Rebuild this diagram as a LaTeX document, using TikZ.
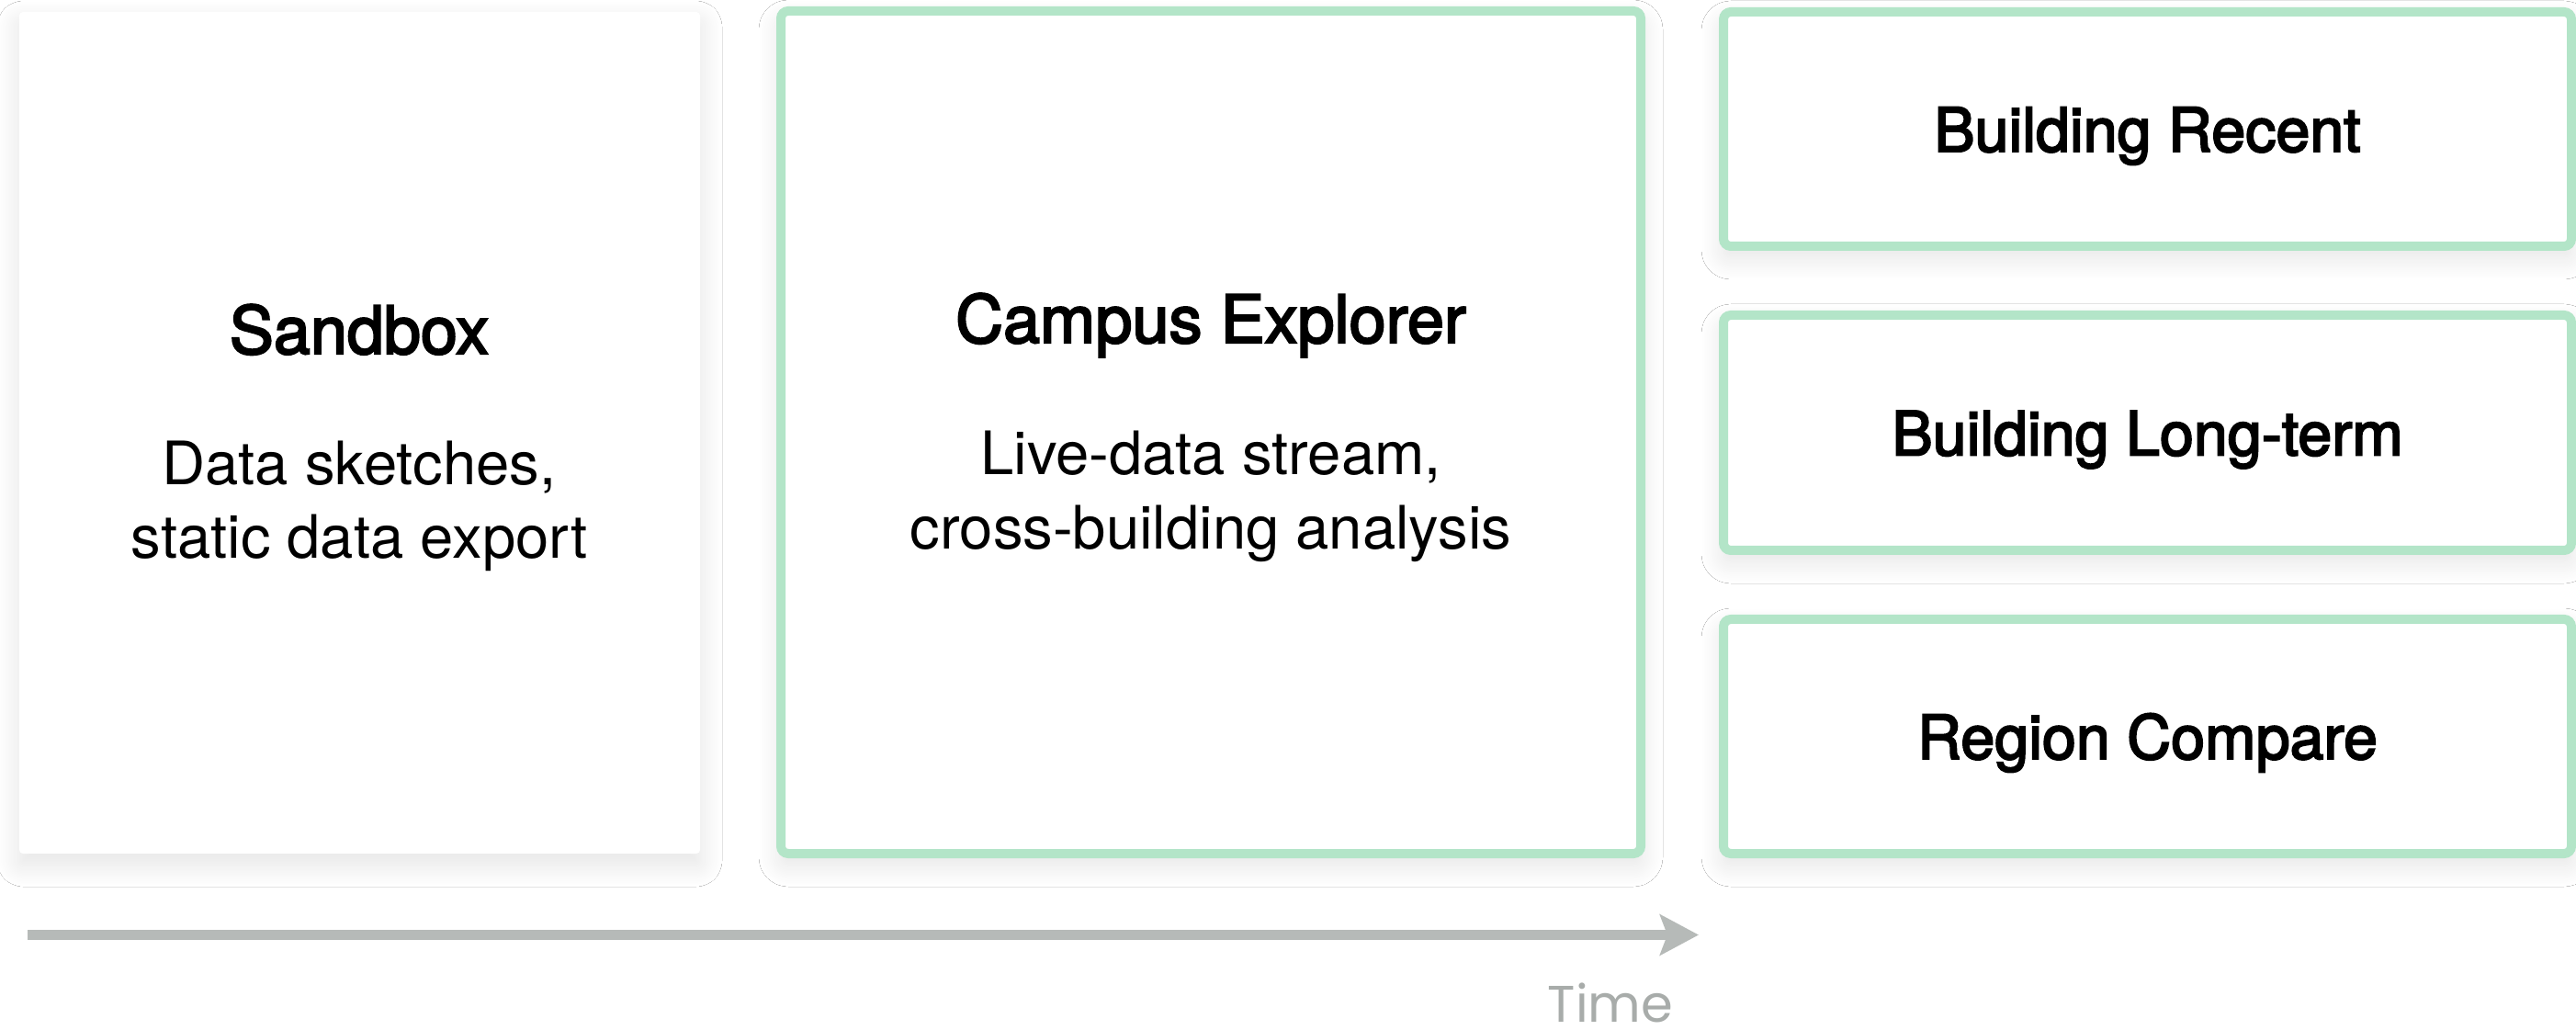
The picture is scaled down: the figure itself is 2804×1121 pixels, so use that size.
\documentclass[tikz,border=0pt]{standalone}
\usepackage{fontspec}
\setmainfont{TeX Gyre Heros}
\newfontfamily\medfont{TeX Gyre Heros}[FakeBold=3]
\newfontfamily\timefont{Poppins}
\usetikzlibrary{arrows.meta,shadows.blur}
\definecolor{boxgreen}{HTML}{B3E5C8}
\definecolor{arrowgray}{HTML}{B6BAB8}
\definecolor{timegray}{HTML}{A8ACAA}
\tikzset{
  shadowed/.style={blur shadow={shadow xshift=0pt, shadow yshift=-3pt, shadow blur radius=6pt, shadow opacity=11, shadow blur steps=30}},
  plainbox/.style={shadowed, fill=white, draw=none, rounded corners=1pt, inner sep=0pt},
  greenbox/.style={shadowed, fill=white, draw=boxgreen, line width=2.5pt, rounded corners=2pt, inner sep=0pt},
  bigtitle/.style={font=\fontsize{18pt}{20pt}\medfont, inner sep=0pt, anchor=base},
  smalltitle/.style={font=\fontsize{16.6pt}{18pt}\medfont, inner sep=0pt, anchor=base},
  subtext/.style={font=\fontsize{16.3pt}{20pt}\selectfont, inner sep=0pt, anchor=base},
  timeline/.style={draw=arrowgray, line width=2.75pt, -{Stealth[length=10.5pt, width=11pt, inset=2pt]}}
}
\begin{document}
\begin{tikzpicture}[x=0.25pt, y=-0.25pt]
\useasboundingbox (0,0) rectangle (2804,1121);
\fill[white] (0,0) rectangle (2804,1121);
\begin{scope}
\clip (0,0) rectangle (2804,1121);
% boxes
\node[plainbox, minimum width=185.25pt, minimum height=229pt] (sandbox) at (391.5,471) {};
\node[greenbox, minimum width=234pt, minimum height=229.25pt] (campus) at (1318,470.5) {};
\node[greenbox, minimum width=230.75pt, minimum height=63.75pt] (recent) at (2337.5,140.5) {};
\node[greenbox, minimum width=230.75pt, minimum height=64pt] (longterm) at (2337.5,471) {};
\node[greenbox, minimum width=230.75pt, minimum height=63.75pt] (region) at (2337.5,801.5) {};
\end{scope}
% texts
\node[bigtitle] (sandboxt) at (391,385) {Sandbox};
\node[subtext] (sandboxs1) at (391,528) {Data sketches,};
\node[subtext] (sandboxs2) at (391,608) {static data export};
\node[bigtitle] (campust) at (1318,373) {Campus Explorer};
\node[subtext] (campuss1) at (1318,517) {Live-data stream,};
\node[subtext] (campuss2) at (1318,598) {cross-building analysis};
\node[smalltitle] (recentt) at (2337.5,165) {Building Recent};
\node[smalltitle] (longtermt) at (2337.5,495.5) {Building Long-term};
\node[smalltitle] (regiont) at (2337.5,826) {Region Compare};
% time axis
\coordinate (tstart) at (30,1017.5);
\coordinate (tend) at (1849,1017.5);
\draw[timeline] (tstart) -- (tend);
\node[font=\fontsize{14pt}{17pt}\timefont, text=timegray, inner sep=0pt, anchor=base] (time) at (1753,1112) {Time};
\end{tikzpicture}
\end{document}
